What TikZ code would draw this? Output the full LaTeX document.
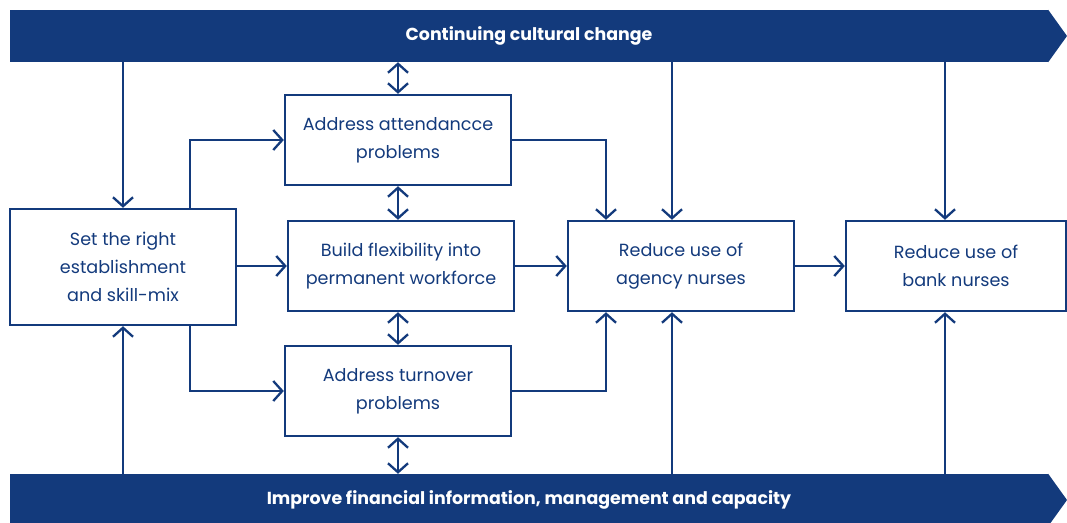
\documentclass[tikz,border=0pt]{standalone}
\usepackage{fontspec}
\setmainfont{Poppins}
\usetikzlibrary{arrows.meta}
\definecolor{navy}{HTML}{133A7C}
\tikzset{
  ->/.style={draw=navy,line width=2.3pt,-{Straight Barb[length=9pt,width=20pt]}},
  <->/.style={draw=navy,line width=2.3pt,{Straight Barb[length=9pt,width=20pt]}-{Straight Barb[length=9pt,width=20pt]}},
  box/.style={draw=navy,line width=2.4pt,align=center,inner sep=0pt},
  banner/.style={fill=navy,text=white,font=\bfseries\fontsize{17.4}{20}\selectfont,
    minimum width=1038pt,minimum height=52pt,inner sep=0pt}
}
\tikzstyle{every node}=[color=navy,font=\fontsize{17.6}{28}\selectfont]

\begin{document}
\begin{tikzpicture}[x=1pt,y=-1pt]
    \useasboundingbox (0,0) rectangle (1067,522);
    \node[banner] (culture) at (529,36) {Continuing cultural change};
    \node[banner] (finance) at (529,500) {Improve financial information, management and capacity};
    \fill[navy] (culture.north east) -- (1067,36) -- (culture.south east) -- cycle;
    \fill[navy] (finance.north east) -- (1067,500) -- (finance.south east) -- cycle;
    \node[box,minimum width=226pt,minimum height=116pt] (set) at (123,267)
    {Set the right\\establishment\\and skill-mix};
    \node[box,minimum width=226pt,minimum height=90pt] (attend) at (398,140)
    {Address attendancce\\problems};
    \node[box,minimum width=226pt,minimum height=90pt] (flex) at (401,266)
    {Build flexibility into\\permanent workforce};
    \node[box,minimum width=226pt,minimum height=90pt] (turn) at (398,391)
    {Address turnover\\problems};
    \node[box,minimum width=226pt,minimum height=90pt] (agency) at (681,266)
    {Reduce use of\\agency nurses};
    \node[box,minimum width=220pt,minimum height=90pt] (bank) at (956,266)
    {Reduce use of\\bank nurses};
    \draw[->] (culture.south -| set.north) -- (set.north);
    \draw[->] (finance.north -| set.south) -- (set.south);
    \draw[->] ([xshift=67pt]set.north) |- (attend.west);
    \draw[->] ([xshift=67pt]set.south) |- (turn.west);
    \draw[->] (set.east |- flex.west) -- (flex.west);
    \draw[->] (flex.east) -- (flex.east -| agency.west);
    \draw[->] (attend.east) -| ([xshift=-75pt]agency.north);
    \draw[->] (turn.east) -| ([xshift=-75pt]agency.south);
    \draw[->] (culture.south -| 672,0) -- ([xshift=-9pt]agency.north);
    \draw[->] (finance.north -| 672,0) -- ([xshift=-9pt]agency.south);
    \draw[->] (agency.east) -- (bank.west);
    \draw[->] (culture.south -| 945,0) -- ([xshift=-11pt]bank.north);
    \draw[->] (finance.north -| 945,0) -- ([xshift=-11pt]bank.south);
    \draw[<->] (culture.south -| attend.north) -- (attend.north);
    \draw[<->] (attend.south) -- (attend.south |- flex.north);
    \draw[<->] (attend.south |- flex.south) -- (attend.south |- turn.north);
    \draw[<->] (turn.south) -- (turn.south |- finance.north);
\end{tikzpicture}
\end{document}
